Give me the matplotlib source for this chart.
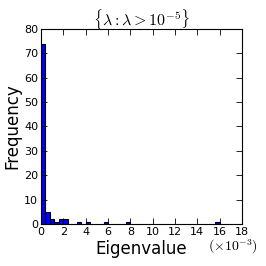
import numpy as np
import matplotlib.pyplot as plt

plt.rcParams['mathtext.fontset'] = 'cm'

# histogram of eigenvalues (x in units of 1e-3)
bin_left = [0.0, 0.4, 0.8, 1.2, 1.6, 2.0, 3.2, 4.0, 5.6, 7.6, 15.6]
counts = [74, 5, 2, 1, 2, 2, 1, 1, 1, 1, 1]
bin_width = 0.4

fig = plt.figure(figsize=(2.66, 2.66), dpi=100)
ax = fig.add_axes([0.154, 0.158, 0.756, 0.733])

ax.bar(bin_left, counts, width=bin_width, align='edge',
       color='#0000ff', edgecolor='black', linewidth=0.8)

ax.set_xlim(0, 18)
ax.set_ylim(0, 80)
ax.set_xticks(np.arange(0, 19, 2))
ax.set_yticks(np.arange(0, 81, 10))
ax.tick_params(direction='in', top=True, right=True, length=4, width=0.6,
               labelsize=8, pad=2)
for s in ax.spines.values():
    s.set_linewidth(0.8)

ax.set_xlabel('Eigenvalue', fontsize=12, labelpad=2)
ax.set_ylabel('Frequency', fontsize=12, labelpad=2)
ax.set_title(r'$\{\lambda : \lambda > 10^{-5}\}$', fontsize=11.5, pad=2)
fig.text(0.97, 0.072, r'$(\times 10^{-3})$', fontsize=10, ha='right', va='center')

fig.savefig('out.png', dpi=100)
